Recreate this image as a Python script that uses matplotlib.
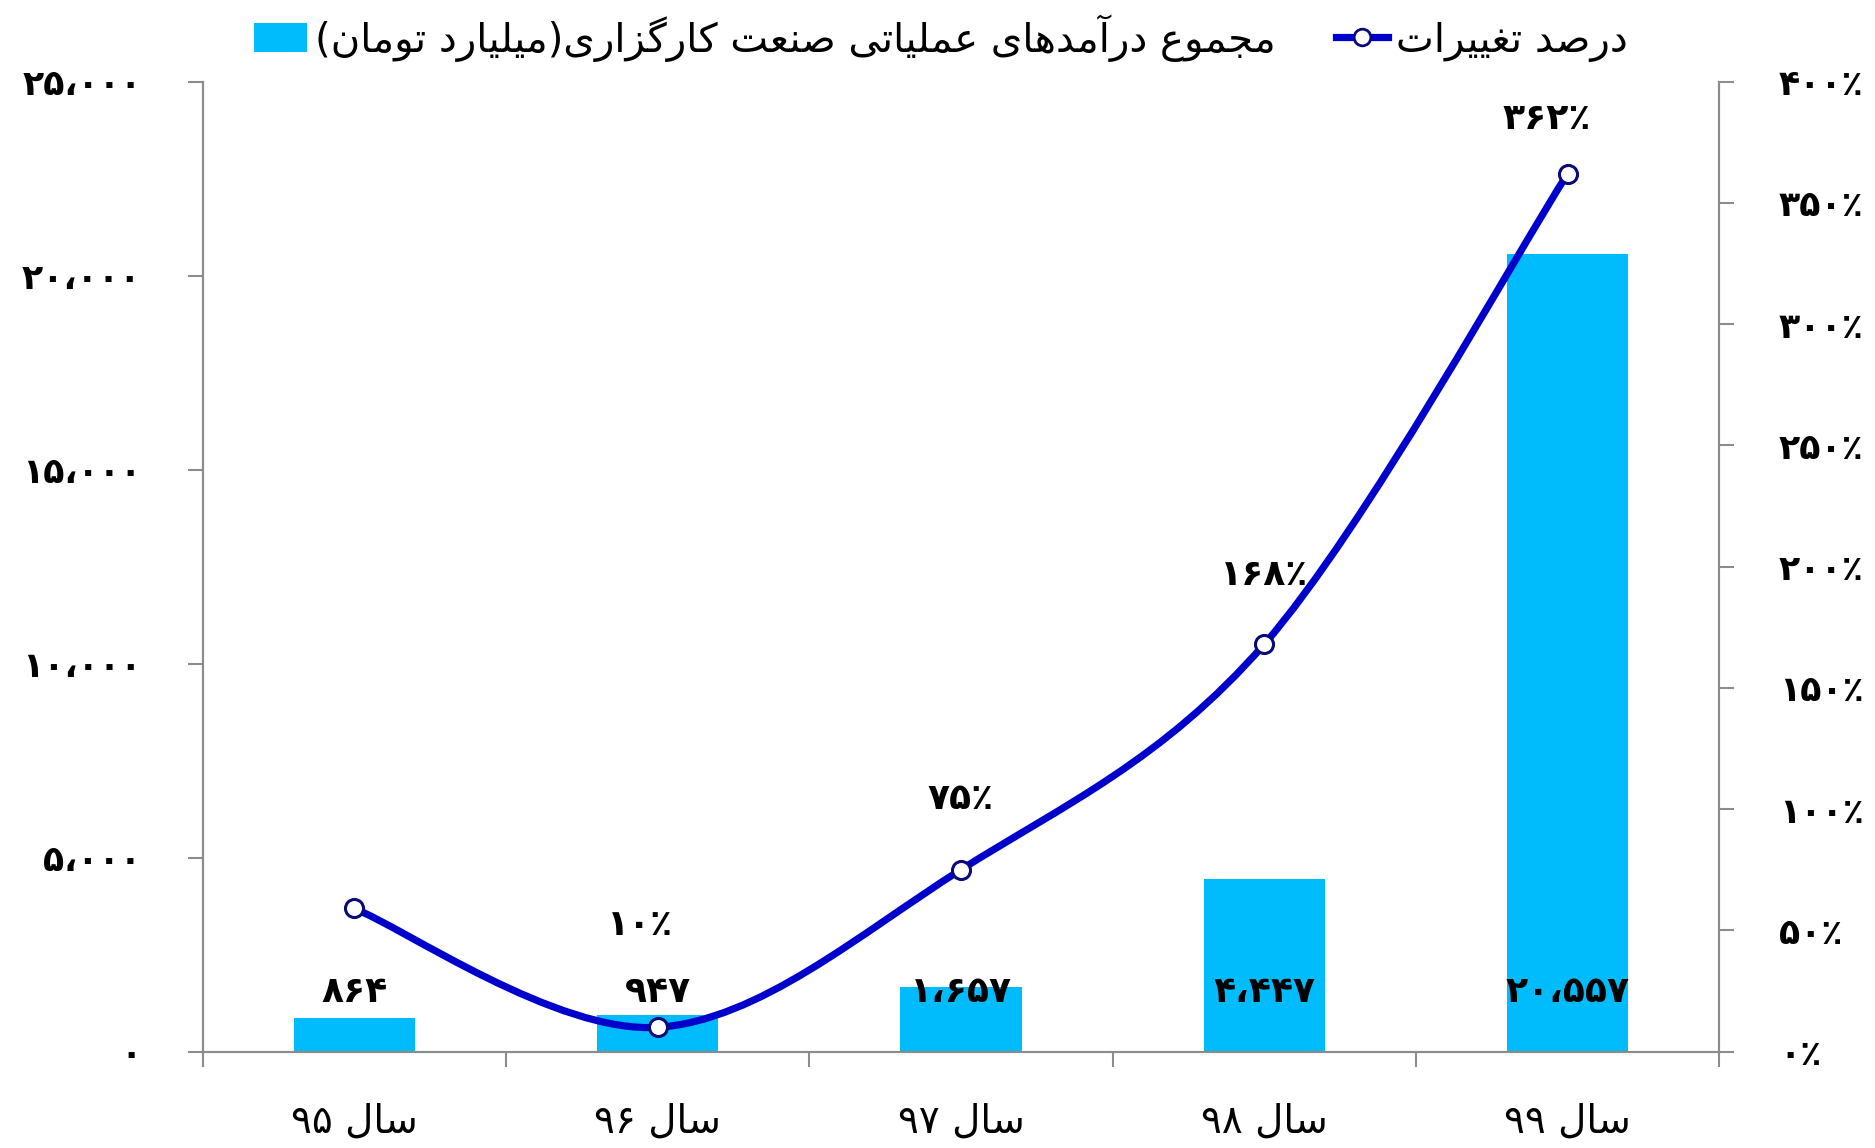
#!/usr/bin/env python3
# -*- coding: utf-8 -*-
"""Brokerage industry operating revenue (bars) and yearly change (smoothed line)."""

import matplotlib
matplotlib.use("Agg")

import matplotlib.pyplot as plt
from matplotlib.lines import Line2D
from matplotlib.patches import Patch, PathPatch
from matplotlib.path import Path
from matplotlib.ticker import FixedLocator, FuncFormatter

# ---------------------------------------------------------------- data
years = ["سال ۹۵", "سال ۹۶", "سال ۹۷", "سال ۹۸", "سال ۹۹"]
revenue = [864, 947, 1657, 4447, 20557]          # billion toman
change_pct = [59, 10, 75, 168, 362]              # percent change vs previous year
change_labelled = [False, True, True, True, True]

bar_name = "مجموع درآمدهای عملیاتی صنعت کارگزاری(میلیارد تومان)"
line_name = "درصد تغییرات"

BAR_COLOR = "#00BCFC"
LINE_COLOR = "#0000CC"
MARKER_EDGE = "#0A0A78"
AXIS_COLOR = "#8C8C8C"

plt.rcParams["font.family"] = ["DejaVu Sans"]

# ---------------------------------------------------------------- persian text helpers
# (isolated, final, initial, medial); None => letter does not join to the next one
FORMS = {
    "ا": ("\uFE8D", "\uFE8E", None, None),
    "آ": ("\uFE81", "\uFE82", None, None),
    "ب": ("\uFE8F", "\uFE90", "\uFE91", "\uFE92"),
    "ت": ("\uFE95", "\uFE96", "\uFE97", "\uFE98"),
    "ج": ("\uFE9D", "\uFE9E", "\uFE9F", "\uFEA0"),
    "د": ("\uFEA9", "\uFEAA", None, None),
    "ر": ("\uFEAD", "\uFEAE", None, None),
    "ز": ("\uFEAF", "\uFEB0", None, None),
    "س": ("\uFEB1", "\uFEB2", "\uFEB3", "\uFEB4"),
    "ص": ("\uFEB9", "\uFEBA", "\uFEBB", "\uFEBC"),
    "ع": ("\uFEC9", "\uFECA", "\uFECB", "\uFECC"),
    "غ": ("\uFECD", "\uFECE", "\uFECF", "\uFED0"),
    "ل": ("\uFEDD", "\uFEDE", "\uFEDF", "\uFEE0"),
    "م": ("\uFEE1", "\uFEE2", "\uFEE3", "\uFEE4"),
    "ن": ("\uFEE5", "\uFEE6", "\uFEE7", "\uFEE8"),
    "ه": ("\uFEE9", "\uFEEA", "\uFEEB", "\uFEEC"),
    "و": ("\uFEED", "\uFEEE", None, None),
    "ک": ("\uFB8E", "\uFB8F", "\uFB90", "\uFB91"),
    "گ": ("\uFB92", "\uFB93", "\uFB94", "\uFB95"),
    "ی": ("\uFBFC", "\uFBFD", "\uFBFE", "\uFBFF"),
}
PERSIAN_DIGITS = "۰۱۲۳۴۵۶۷۸۹"
MIRROR = {"(": ")", ")": "("}


def shape(text: str) -> list[str]:
    out = []
    for i, ch in enumerate(text):
        if ch not in FORMS:
            out.append(ch)
            continue
        iso, fin, ini, med = FORMS[ch]
        prev = text[i - 1] if i > 0 else ""
        nxt = text[i + 1] if i + 1 < len(text) else ""
        join_prev = prev in FORMS and FORMS[prev][2] is not None
        join_next = ini is not None and nxt in FORMS
        if join_prev and join_next:
            out.append(med)
        elif join_prev:
            out.append(fin)
        elif join_next:
            out.append(ini)
        else:
            out.append(iso)
    return out


def rtl(text: str) -> str:
    """Very small bidi: shape letters, reverse order, keep digit runs left-to-right."""
    glyphs = shape(text)
    runs, cur, cur_digit = [], [], None
    for g in glyphs:
        is_digit = g in PERSIAN_DIGITS
        if cur and is_digit != cur_digit:
            runs.append((cur_digit, cur))
            cur = []
        cur.append(g)
        cur_digit = is_digit
    if cur:
        runs.append((cur_digit, cur))
    visual = []
    for is_digit, run in reversed(runs):
        if is_digit:
            visual.extend(run)
        else:
            visual.extend(MIRROR.get(g, g) for g in reversed(run))
    return "".join(visual)


def fa_num(v: float) -> str:
    s = f"{int(round(v)):,}".replace(",", "،")
    return s.translate(str.maketrans("0123456789", PERSIAN_DIGITS))


def fa_pct(v: float) -> str:
    return fa_num(v) + "٪"


def smooth_path(xs, ys, k=1.0 / 6.0) -> Path:
    # Catmull-Rom style bezier, like a spreadsheet "smoothed line"
    pts = list(zip(xs, ys))
    verts = [pts[0]]
    codes = [Path.MOVETO]
    for i in range(len(pts) - 1):
        p0 = pts[i - 1] if i > 0 else pts[i]
        p1, p2 = pts[i], pts[i + 1]
        p3 = pts[i + 2] if i + 2 < len(pts) else pts[i + 1]
        c1 = (p1[0] + (p2[0] - p0[0]) * k, p1[1] + (p2[1] - p0[1]) * k)
        c2 = (p2[0] - (p3[0] - p1[0]) * k, p2[1] - (p3[1] - p1[1]) * k)
        verts += [c1, c2, p2]
        codes += [Path.CURVE4] * 3
    return Path(verts, codes)


# ---------------------------------------------------------------- figure
fig = plt.figure(figsize=(18.75, 11.48), dpi=100)
ax = fig.add_axes([0.108, 0.084, 0.809, 0.845])
ax2 = ax.twinx()

x = list(range(len(years)))
ax.bar(x, revenue, width=0.4, color=BAR_COLOR, zorder=2)
ax.set_xlim(-0.5, len(years) - 0.5)
ax.set_ylim(0, 25000)
ax.set_yticks(range(0, 25001, 5000))
ax.yaxis.set_major_formatter(FuncFormatter(lambda v, _: fa_num(v)))

ax.set_xticks(x)
ax.set_xticklabels([rtl(y) for y in years], fontsize=28)
ax.xaxis.set_minor_locator(FixedLocator([i - 0.5 for i in range(len(years) + 1)]))
ax.tick_params(axis="x", which="major", length=0, pad=37)
ax.tick_params(axis="x", which="minor", length=11, width=1.5, color=AXIS_COLOR, direction="out")
ax.tick_params(axis="y", length=11, width=1.5, color=AXIS_COLOR, direction="out", pad=33)
for lab in ax.get_yticklabels():
    lab.set_fontsize(25)
    lab.set_fontweight("bold")

for i, v in enumerate(revenue):
    ax.annotate(fa_num(v), xy=(i, 0), xytext=(0, 43), textcoords="offset points",
                ha="center", va="center", fontsize=26, fontweight="bold", zorder=5)

# secondary axis: smoothed change line
ax2.set_ylim(0, 400)
ax2.set_yticks(range(0, 401, 50))
ax2.yaxis.set_major_formatter(FuncFormatter(lambda v, _: fa_pct(v)))
ax2.tick_params(axis="y", length=11, width=1.5, color=AXIS_COLOR, direction="out", pad=32)
for lab in ax2.get_yticklabels():
    lab.set_fontsize(25)
    lab.set_fontweight("bold")

ax2.add_patch(PathPatch(smooth_path(x, change_pct), facecolor="none", edgecolor=LINE_COLOR,
                        linewidth=5.2, capstyle="round", zorder=3))
ax2.plot(x, change_pct, linestyle="none", marker="o", markersize=13,
         markerfacecolor="white", markeredgecolor=MARKER_EDGE, markeredgewidth=2.2, zorder=4)

label_offsets = [(0, 0), (-13, 74), (0, 51), (0, 50), (-15, 39)]
for i, (v, show) in enumerate(zip(change_pct, change_labelled)):
    if not show:
        continue
    ax2.annotate(fa_pct(v), xy=(i, v), xytext=label_offsets[i], textcoords="offset points",
                 ha="center", va="center", fontsize=26, fontweight="bold", zorder=5)

for a in (ax, ax2):
    a.spines["top"].set_visible(False)
    for side in ("left", "right", "bottom"):
        a.spines[side].set_color(AXIS_COLOR)
        a.spines[side].set_linewidth(1.5)

# legend above the plot
handles = [
    Patch(facecolor=BAR_COLOR, edgecolor="none"),
    Line2D([], [], color=LINE_COLOR, linewidth=5.2, marker="o", markersize=12,
           markerfacecolor="white", markeredgecolor=MARKER_EDGE, markeredgewidth=2),
]
fig.legend(handles, [rtl(bar_name), rtl(line_name)], loc="center", bbox_to_anchor=(0.502, 0.967),
           ncol=2, frameon=False, fontsize=29, handlelength=1.3, handleheight=0.75,
           handletextpad=0.2, columnspacing=1.5)

fig.savefig("out.png", dpi=100)
